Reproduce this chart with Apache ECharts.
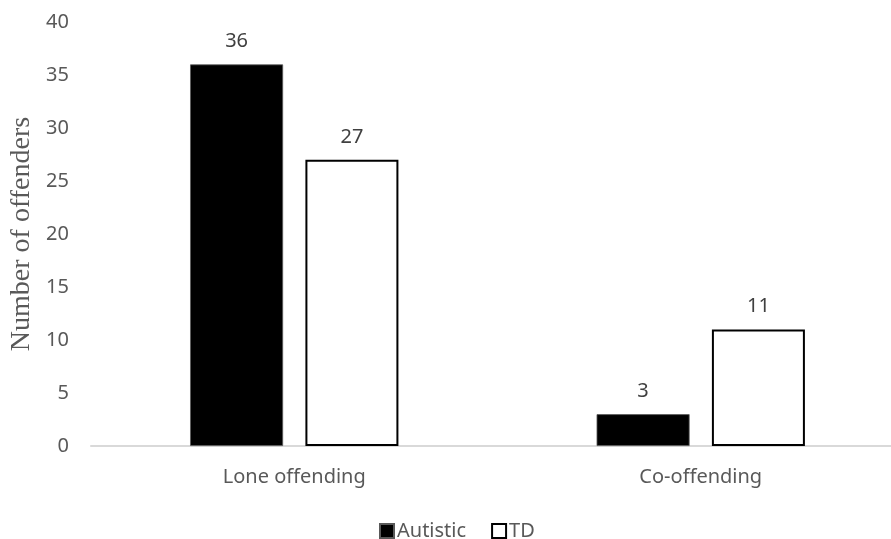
<!DOCTYPE html>
<html>
<head>
<meta charset="utf-8">
<script src="https://cdn.jsdelivr.net/npm/echarts@6/dist/echarts.min.js"></script>
<style>
  html, body { margin: 0; padding: 0; background: #fff; }
  #chart { width: 891px; height: 539px; }
</style>
</head>
<body>
<div id="chart"></div>
<script>
// Offending type by group
const categories = ['Lone offending', 'Co-offending'];
const autistic = [36, 3];
const td = [27, 11];
const yTicks = { min: 0, max: 40, interval: 5 };

const tickFont = 'Noto Sans';
const chart = echarts.init(document.getElementById('chart'));

chart.setOption({
  animation: false,
  backgroundColor: '#ffffff',
  grid: { left: 91, width: 813, top: 22, bottom: 93, containLabel: false, outerBoundsMode: 'none' },
  legend: {
    bottom: -2,
    left: 379,
    padding: 0,
    itemWidth: 14,
    itemHeight: 14,
    itemGap: 25,
    icon: 'rect',
    textStyle: { fontFamily: tickFont, fontSize: 20, color: '#595959', padding: [0, 0, 0, -2] },
    data: ['Autistic', 'TD']
  },
  xAxis: {
    type: 'category',
    data: categories,
    axisLine: { lineStyle: { color: '#d9d9d9', width: 2 } },
    axisTick: { show: false },
    axisLabel: { fontFamily: tickFont, fontSize: 20, color: '#595959', margin: 21 }
  },
  yAxis: {
    type: 'value',
    min: yTicks.min,
    max: yTicks.max,
    interval: yTicks.interval,
    name: 'Number of offenders',
    nameLocation: 'middle',
    nameGap: 54,
    nameTextStyle: { fontFamily: 'Liberation Serif', fontSize: 28, color: '#595959' },
    axisLine: { show: false },
    axisTick: { show: false },
    splitLine: { show: false },
    axisLabel: { fontFamily: tickFont, fontSize: 20, color: '#595959', margin: 22 }
  },
  series: [
    {
      name: 'Autistic',
      type: 'bar',
      data: autistic,
      barWidth: 93,
      barGap: '24%',
      itemStyle: { color: '#000000', borderColor: '#595959', borderWidth: 0.8 },
      label: { show: true, position: 'top', distance: 13, fontFamily: tickFont, fontSize: 20, color: '#404040' }
    },
    {
      name: 'TD',
      type: 'bar',
      data: td,
      barWidth: 93,
      itemStyle: { color: '#ffffff', borderColor: '#000000', borderWidth: 2 },
      label: { show: true, position: 'top', distance: 13, fontFamily: tickFont, fontSize: 20, color: '#404040' }
    }
  ]
});
</script>
</body>
</html>
